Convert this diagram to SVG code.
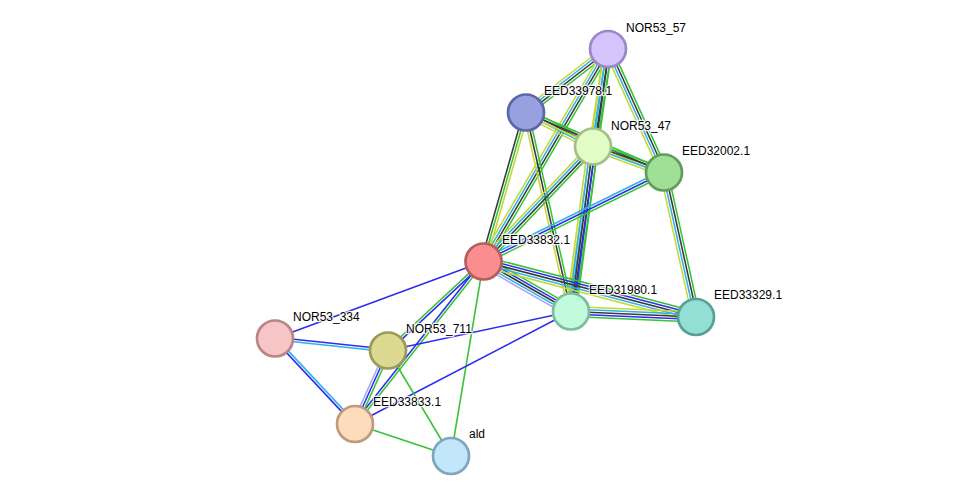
<svg xmlns="http://www.w3.org/2000/svg" width="975" height="501" viewBox="0 0 975 501">
<style>
line{stroke-width:1.35;fill:none}
.g{stroke:#35c435}.b{stroke:#2d2df0}.k{stroke:#3a3a3a}.c{stroke:#2eb2e6}.y{stroke:#c4d836}.p{stroke:#a4a4fa}
circle{stroke-width:2.7}
text{font-family:"Liberation Sans",Arial,sans-serif;font-size:12px;fill:#000;stroke:#fff;stroke-width:2.5;stroke-opacity:0.85;paint-order:stroke;stroke-linejoin:round}
</style>
<rect width="975" height="501" fill="#fff"/>
<g id="edges">
<g transform="translate(608,49) rotate(142.25) scale(1,1.15)"><line x2="103.7" y1="-3.3" y2="-3.3" class="g"/><line x2="103.7" y1="-1.1" y2="-1.1" class="k"/><line x2="103.7" y1="1.1" y2="1.1" class="c"/><line x2="103.7" y1="3.3" y2="3.3" class="y"/></g>
<g transform="translate(608,49) rotate(98.75) scale(1,1.15)"><line x2="98.6" y1="-3.3" y2="-3.3" class="g"/><line x2="98.6" y1="-1.1" y2="-1.1" class="k"/><line x2="98.6" y1="1.1" y2="1.1" class="c"/><line x2="98.6" y1="3.3" y2="3.3" class="y"/></g>
<g transform="translate(608,49) rotate(65.6) scale(1,1.15)"><line x2="135.6" y1="-3.3" y2="-3.3" class="g"/><line x2="135.6" y1="-1.1" y2="-1.1" class="k"/><line x2="135.6" y1="1.1" y2="1.1" class="c"/><line x2="135.6" y1="3.3" y2="3.3" class="y"/></g>
<g transform="translate(608,49) rotate(120.36) scale(1,1.15)"><line x2="246.3" y1="-3.3" y2="-3.3" class="g"/><line x2="246.3" y1="-1.1" y2="-1.1" class="k"/><line x2="246.3" y1="1.1" y2="1.1" class="c"/><line x2="246.3" y1="3.3" y2="3.3" class="y"/></g>
<g transform="translate(608,49) rotate(98.02) scale(1,1.15)"><line x2="265.1" y1="-3.3" y2="-3.3" class="g"/><line x2="265.1" y1="-1.1" y2="-1.1" class="k"/><line x2="265.1" y1="1.1" y2="1.1" class="c"/><line x2="265.1" y1="3.3" y2="3.3" class="y"/></g>
<g transform="translate(526,112.5) rotate(26.9) scale(1,1.15)"><line x2="75.1" y1="-3.3" y2="-3.3" class="g"/><line x2="75.1" y1="-1.1" y2="-1.1" class="k"/><line x2="75.1" y1="1.1" y2="1.1" class="c"/><line x2="75.1" y1="3.3" y2="3.3" class="y"/></g>
<g transform="translate(526,112.5) rotate(23.5) scale(1,1.15)"><line x2="150.5" y1="-2.2" y2="-2.2" class="g"/><line x2="150.5" class="k"/><line x2="150.5" y1="2.2" y2="2.2" class="y"/></g>
<g transform="translate(526,112.5) rotate(105.92) scale(1,1.15)"><line x2="154.9" y1="-2.2" y2="-2.2" class="y"/><line x2="154.9" class="g"/><line x2="154.9" y1="2.2" y2="2.2" class="k"/></g>
<g transform="translate(526,112.5) rotate(77.26) scale(1,1.15)"><line x2="204" y1="-2.2" y2="-2.2" class="g"/><line x2="204" class="k"/><line x2="204" y1="2.2" y2="2.2" class="y"/></g>
<g transform="translate(593,146.5) rotate(20.11) scale(1,1.15)"><line x2="75.6" y1="-3.3" y2="-3.3" class="g"/><line x2="75.6" y1="-1.1" y2="-1.1" class="k"/><line x2="75.6" y1="1.1" y2="1.1" class="c"/><line x2="75.6" y1="3.3" y2="3.3" class="y"/></g>
<g transform="translate(593,146.5) rotate(133.6) scale(1,1.15)"><line x2="158.8" y1="-3.3" y2="-3.3" class="g"/><line x2="158.8" y1="-1.1" y2="-1.1" class="k"/><line x2="158.8" y1="1.1" y2="1.1" class="c"/><line x2="158.8" y1="3.3" y2="3.3" class="y"/></g>
<g transform="translate(593,146.5) rotate(97.59) scale(1,1.15)"><line x2="166.5" y1="-4.4" y2="-4.4" class="g"/><line x2="166.5" y1="-2.2" y2="-2.2" class="b"/><line x2="166.5" class="k"/><line x2="166.5" y1="2.2" y2="2.2" class="c"/><line x2="166.5" y1="4.4" y2="4.4" class="y"/></g>
<g transform="translate(664,172.5) rotate(153.75) scale(1,1.15)"><line x2="201.2" y1="-2.2" y2="-2.2" class="g"/><line x2="201.2" class="b"/><line x2="201.2" y1="2.2" y2="2.2" class="c"/></g>
<g transform="translate(664,172.5) rotate(77.51) scale(1,1.15)"><line x2="148" y1="-3.3" y2="-3.3" class="g"/><line x2="148" y1="-1.1" y2="-1.1" class="k"/><line x2="148" y1="1.1" y2="1.1" class="c"/><line x2="148" y1="3.3" y2="3.3" class="y"/></g>
<g transform="translate(483.5,261.5) rotate(29.74) scale(1,1.15)"><line x2="100.8" y1="-4.4" y2="-4.4" class="g"/><line x2="100.8" y1="-2.2" y2="-2.2" class="b"/><line x2="100.8" class="k"/><line x2="100.8" y1="2.2" y2="2.2" class="c"/><line x2="100.8" y1="4.4" y2="4.4" class="p"/></g>
<g transform="translate(483.5,261.5) rotate(14.64) scale(1,1.15)"><line x2="219.6" y1="-4.4" y2="-4.4" class="g"/><line x2="219.6" y1="-2.2" y2="-2.2" class="b"/><line x2="219.6" class="k"/><line x2="219.6" y1="2.2" y2="2.2" class="c"/><line x2="219.6" y1="4.4" y2="4.4" class="y"/></g>
<g transform="translate(571,311.5) rotate(2.52) scale(1,1.15)"><line x2="125.1" y1="-4.4" y2="-4.4" class="y"/><line x2="125.1" y1="-2.2" y2="-2.2" class="c"/><line x2="125.1" class="k"/><line x2="125.1" y1="2.2" y2="2.2" class="b"/><line x2="125.1" y1="4.4" y2="4.4" class="g"/></g>
<g transform="translate(483.5,261.5) rotate(159.73) scale(1,1.15)"><line x2="222.3" class="b"/></g>
<g transform="translate(483.5,261.5) rotate(137.02) scale(1,1.15)"><line x2="130.5" y1="-1.1" y2="-1.1" class="b"/><line x2="130.5" y1="1.1" y2="1.1" class="g"/></g>
<g transform="translate(483.5,261.5) rotate(128.34) scale(1,1.15)"><line x2="207.2" y1="-1.1" y2="-1.1" class="g"/><line x2="207.2" y1="1.1" y2="1.1" class="b"/></g>
<g transform="translate(483.5,261.5) rotate(99.49) scale(1,1.15)"><line x2="197.2" class="g"/></g>
<g transform="translate(571,311.5) rotate(167.97) scale(1,1.15)"><line x2="187.1" class="b"/></g>
<g transform="translate(571,311.5) rotate(152.49) scale(1,1.15)"><line x2="243.5" class="b"/></g>
<g transform="translate(275,338.5) rotate(6.06) scale(1,1.15)"><line x2="113.6" y1="-1.1" y2="-1.1" class="b"/><line x2="113.6" y1="1.1" y2="1.1" class="c"/></g>
<g transform="translate(275,338.5) rotate(46.9) scale(1,1.15)"><line x2="117.1" y1="-1.1" y2="-1.1" class="c"/><line x2="117.1" y1="1.1" y2="1.1" class="b"/></g>
<g transform="translate(388,350.5) rotate(114.18) scale(1,1.15)"><line x2="80.6" y1="-2.2" y2="-2.2" class="g"/><line x2="80.6" class="b"/><line x2="80.6" y1="2.2" y2="2.2" class="p"/></g>
<g transform="translate(388,350.5) rotate(59.16) scale(1,1.15)"><line x2="122.9" class="g"/></g>
<g transform="translate(355,424) rotate(18.43) scale(1,1.15)"><line x2="101.2" class="g"/></g>
</g>
<g id="n-NOR53_57"><circle cx="608" cy="49" r="18" fill="#d4c4fc" stroke="#9a88c8"/><text x="626" y="32">NOR53_57</text></g>
<g id="n-EED33978.1"><circle cx="526" cy="112.5" r="18" fill="#98a1e0" stroke="#5a67a8"/><text x="544" y="95">EED33978.1</text></g>
<g id="n-NOR53_47"><circle cx="593" cy="146.5" r="18" fill="#e2fcc6" stroke="#a3c08a"/><text x="611" y="130">NOR53_47</text></g>
<g id="n-EED32002.1"><circle cx="664" cy="172.5" r="18" fill="#a0e096" stroke="#5f9e58"/><text x="682" y="155">EED32002.1</text></g>
<g id="n-EED33832.1"><circle cx="483.5" cy="261.5" r="18" fill="#fa8e8e" stroke="#b85c5c"/><text x="502" y="244">EED33832.1</text></g>
<g id="n-EED31980.1"><circle cx="571" cy="311.5" r="18" fill="#c0fbdc" stroke="#7fbd9c"/><text x="589" y="294">EED31980.1</text></g>
<g id="n-EED33329.1"><circle cx="696" cy="317" r="18" fill="#93dfd4" stroke="#58a096"/><text x="714" y="299">EED33329.1</text></g>
<g id="n-NOR53_334"><circle cx="275" cy="338.5" r="18" fill="#f6c6c6" stroke="#b88686"/><text x="293" y="321">NOR53_334</text></g>
<g id="n-NOR53_711"><circle cx="388" cy="350.5" r="18" fill="#dcd993" stroke="#9c9a58"/><text x="406" y="333">NOR53_711</text></g>
<g id="n-EED33833.1"><circle cx="355" cy="424" r="18" fill="#fddcbd" stroke="#bc9c7c"/><text x="373" y="406">EED33833.1</text></g>
<g id="n-ald"><circle cx="451" cy="456" r="18" fill="#c2e7fb" stroke="#7ea6be"/><text x="469" y="438">ald</text></g>
</svg>
